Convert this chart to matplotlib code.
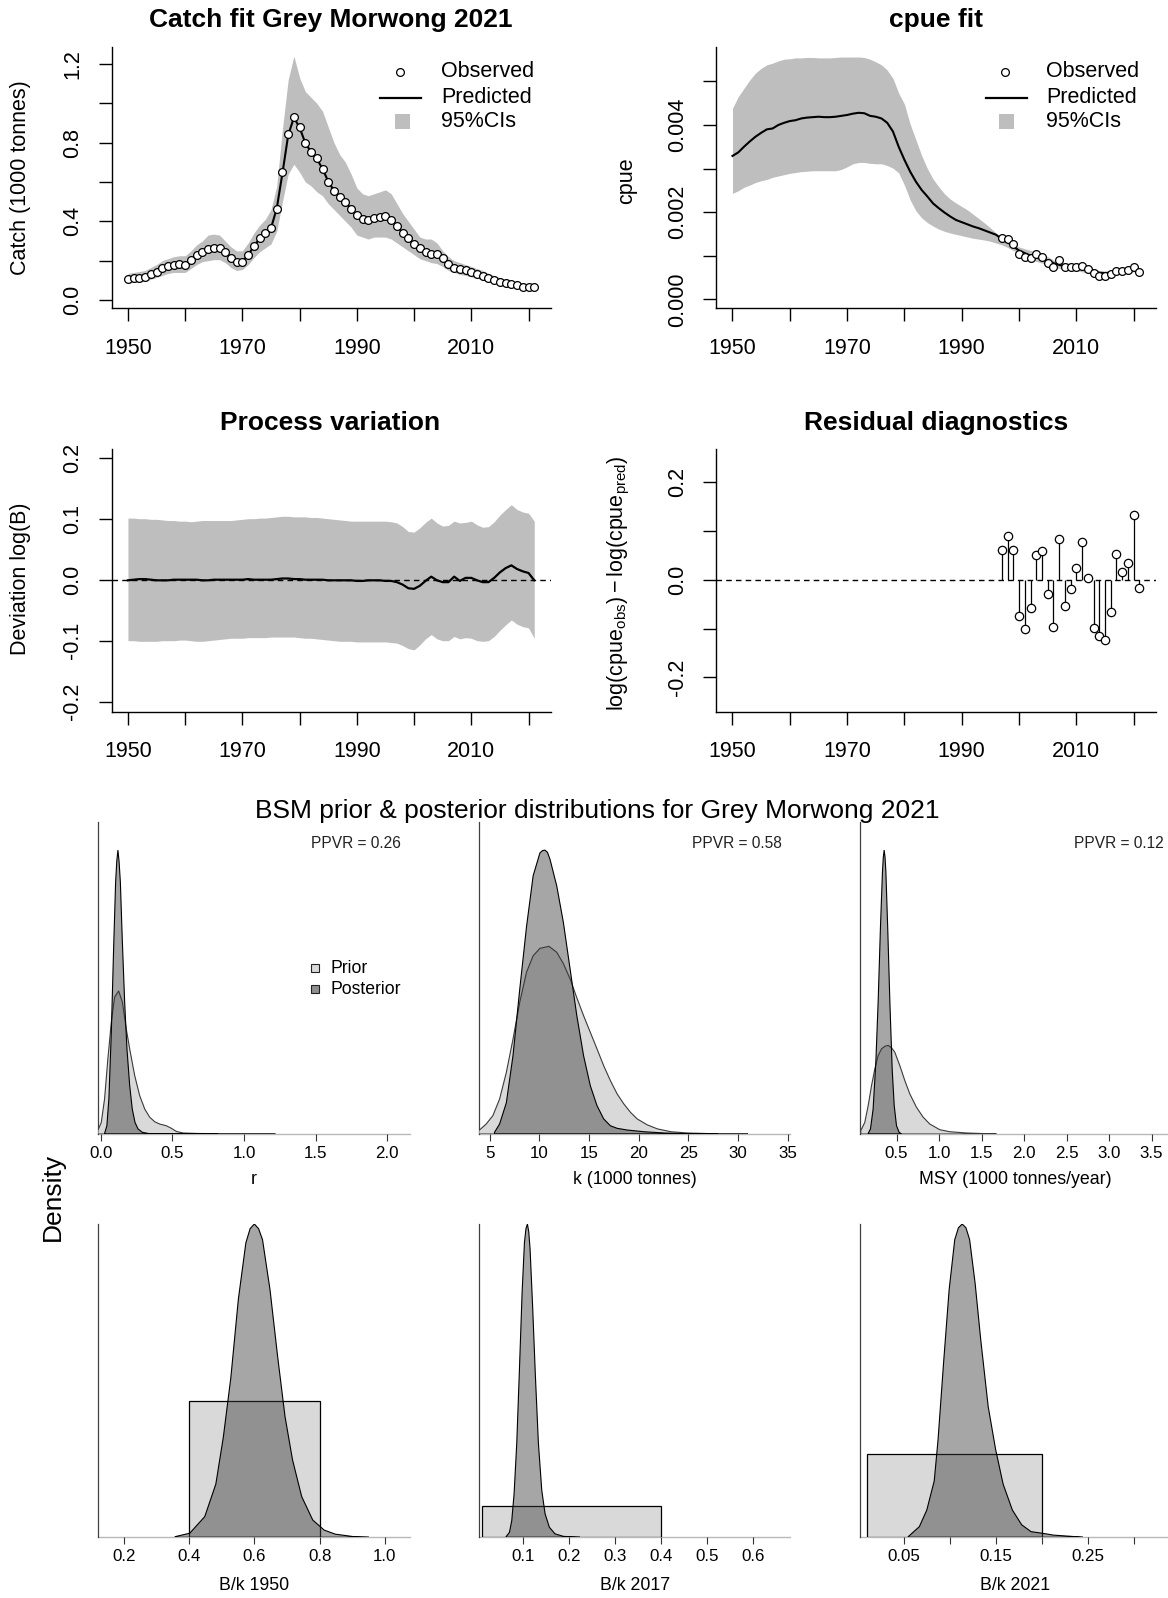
import matplotlib
matplotlib.use("Agg")
import matplotlib.pyplot as plt

plt.rcParams['font.family'] = ['Liberation Sans', 'DejaVu Sans']
plt.rcParams['mathtext.fontset'] = 'custom'
plt.rcParams['mathtext.rm'] = 'Liberation Sans'
plt.rcParams['mathtext.it'] = 'Liberation Sans:italic'

# ---------------- data ----------------
years = list(range(1950, 2022))

catch_obs = [0.105, 0.114, 0.114, 0.119, 0.132, 0.144, 0.161, 0.173, 0.178, 0.181,
             0.178, 0.203, 0.229, 0.246, 0.258, 0.263, 0.263, 0.242, 0.212, 0.192,
             0.195, 0.229, 0.275, 0.314, 0.339, 0.364, 0.463, 0.649, 0.842, 0.932,
             0.878, 0.797, 0.751, 0.720, 0.666, 0.602, 0.554, 0.525, 0.500, 0.461,
             0.432, 0.412, 0.407, 0.415, 0.424, 0.427, 0.407, 0.378, 0.339, 0.314,
             0.283, 0.263, 0.242, 0.234, 0.234, 0.212, 0.183, 0.164, 0.158, 0.153,
             0.141, 0.131, 0.122, 0.110, 0.102, 0.093, 0.088, 0.081, 0.075, 0.068,
             0.068, 0.068]
catch_pred = [0.108, 0.112, 0.115, 0.120, 0.131, 0.144, 0.160, 0.172, 0.178, 0.180,
              0.182, 0.202, 0.228, 0.246, 0.257, 0.262, 0.261, 0.243, 0.214, 0.194,
              0.197, 0.228, 0.273, 0.312, 0.338, 0.366, 0.465, 0.645, 0.838, 0.928,
              0.876, 0.798, 0.752, 0.718, 0.667, 0.603, 0.556, 0.525, 0.499, 0.462,
              0.433, 0.413, 0.408, 0.415, 0.423, 0.426, 0.408, 0.379, 0.340, 0.315,
              0.284, 0.263, 0.243, 0.235, 0.233, 0.212, 0.184, 0.165, 0.158, 0.152,
              0.141, 0.131, 0.122, 0.111, 0.102, 0.094, 0.088, 0.081, 0.075, 0.069,
              0.068, 0.068]
catch_upper = [0.135, 0.140, 0.145, 0.150, 0.165, 0.180, 0.200, 0.210, 0.220, 0.225,
               0.225, 0.250, 0.280, 0.300, 0.330, 0.335, 0.330, 0.300, 0.270, 0.250,
               0.250, 0.290, 0.340, 0.380, 0.410, 0.460, 0.580, 0.870, 1.120, 1.240,
               1.130, 1.060, 1.030, 1.000, 0.960, 0.880, 0.800, 0.740, 0.700, 0.640,
               0.570, 0.540, 0.530, 0.540, 0.550, 0.560, 0.540, 0.490, 0.440, 0.400,
               0.360, 0.320, 0.310, 0.310, 0.290, 0.250, 0.220, 0.200, 0.190, 0.180,
               0.170, 0.160, 0.150, 0.136, 0.124, 0.114, 0.105, 0.097, 0.090, 0.083,
               0.080, 0.076]
catch_lower = [0.085, 0.090, 0.090, 0.095, 0.105, 0.115, 0.125, 0.135, 0.140, 0.140,
               0.140, 0.160, 0.180, 0.195, 0.200, 0.205, 0.205, 0.190, 0.165, 0.150,
               0.155, 0.180, 0.215, 0.245, 0.265, 0.285, 0.350, 0.500, 0.640, 0.690,
               0.650, 0.600, 0.580, 0.550, 0.530, 0.490, 0.460, 0.430, 0.400, 0.370,
               0.330, 0.320, 0.310, 0.320, 0.320, 0.320, 0.310, 0.290, 0.270, 0.250,
               0.230, 0.210, 0.200, 0.190, 0.185, 0.170, 0.150, 0.140, 0.130, 0.125,
               0.117, 0.110, 0.100, 0.093, 0.087, 0.080, 0.075, 0.070, 0.065, 0.060,
               0.058, 0.057]

cpue_pred = [0.00329, 0.00337, 0.00350, 0.00362, 0.00373, 0.00382, 0.00390, 0.00392, 0.00400, 0.00405,
             0.00409, 0.00411, 0.00415, 0.00417, 0.00418, 0.00419, 0.00418, 0.00418, 0.00419, 0.00421,
             0.00423, 0.00426, 0.00428, 0.00427, 0.00421, 0.00419, 0.00415, 0.00405, 0.00385, 0.00350,
             0.00320, 0.00293, 0.00270, 0.00251, 0.00236, 0.00220, 0.00209, 0.00199, 0.00190, 0.00182,
             0.00177, 0.00172, 0.00167, 0.00163, 0.00158, 0.00153, 0.00148, 0.00138, 0.00131, 0.00121,
             0.00112, 0.00106, 0.00100, 0.00096, 0.00092, 0.00088, 0.00083, 0.00079, 0.00076, 0.00075,
             0.00074, 0.00071, 0.00067, 0.00063, 0.00061, 0.00060, 0.00061, 0.00063, 0.00065, 0.00067,
             0.00069, 0.00067]
cpue_upper = [0.00438, 0.00465, 0.00484, 0.00503, 0.00519, 0.00530, 0.00538, 0.00542, 0.00547, 0.00551,
              0.00552, 0.00554, 0.00554, 0.00555, 0.00555, 0.00554, 0.00554, 0.00554, 0.00555, 0.00556,
              0.00556, 0.00556, 0.00556, 0.00555, 0.00551, 0.00545, 0.00538, 0.00526, 0.00507, 0.00473,
              0.00448, 0.00402, 0.00366, 0.00330, 0.00300, 0.00276, 0.00258, 0.00242, 0.00230, 0.00221,
              0.00213, 0.00205, 0.00195, 0.00185, 0.00175, 0.00164, 0.00152, 0.00143, 0.00134, 0.00126,
              0.00120, 0.00116, 0.00112, 0.00108, 0.00104, 0.00098, 0.00090, 0.00086, 0.00083, 0.00083,
              0.00081, 0.00077, 0.00073, 0.00069, 0.00066, 0.00065, 0.00066, 0.00069, 0.00071, 0.00073,
              0.00075, 0.00073]
cpue_lower = [0.00243, 0.00249, 0.00257, 0.00262, 0.00268, 0.00272, 0.00275, 0.00280, 0.00283, 0.00286,
              0.00289, 0.00291, 0.00293, 0.00294, 0.00295, 0.00295, 0.00295, 0.00295, 0.00295, 0.00298,
              0.00304, 0.00311, 0.00314, 0.00314, 0.00312, 0.00311, 0.00311, 0.00307, 0.00301, 0.00290,
              0.00262, 0.00228, 0.00203, 0.00187, 0.00176, 0.00168, 0.00161, 0.00156, 0.00152, 0.00149,
              0.00146, 0.00143, 0.00140, 0.00138, 0.00136, 0.00133, 0.00129, 0.00125, 0.00119, 0.00112,
              0.00106, 0.00098, 0.00092, 0.00087, 0.00083, 0.00079, 0.00075, 0.00071, 0.00069, 0.00067,
              0.00066, 0.00063, 0.00060, 0.00057, 0.00054, 0.00054, 0.00055, 0.00057, 0.00059, 0.00061,
              0.00063, 0.00061]
cpue_obs_years = list(range(1997, 2022))
cpue_obs = [0.00141, 0.00138, 0.00126, 0.00103, 0.00096, 0.00094, 0.00104, 0.00096, 0.00084, 0.00075,
            0.00090, 0.00075, 0.00073, 0.00073, 0.00076, 0.00069, 0.00060, 0.00054, 0.00054, 0.00058,
            0.00065, 0.00065, 0.00067, 0.00075, 0.00063]

proc_dev = [-0.001, 0.000, 0.001, 0.001, 0.000, -0.001, -0.001, -0.001, 0.000, 0.000,
            0.000, 0.000, 0.000, -0.001, -0.001, 0.000, 0.000, 0.000, 0.000, 0.000,
            0.000, 0.001, 0.000, 0.000, 0.000, 0.000, 0.001, 0.002, 0.002, 0.001,
            0.001, 0.000, 0.000, 0.000, 0.000, -0.001, -0.001, -0.001, -0.001, -0.001,
            -0.002, -0.002, -0.001, -0.001, -0.001, -0.002, -0.002, -0.004, -0.008, -0.014,
            -0.015, -0.010, -0.002, 0.005, -0.001, -0.004, -0.004, 0.005, -0.002, 0.003,
            0.003, -0.001, -0.004, -0.004, 0.003, 0.012, 0.019, 0.0235, 0.0175, 0.0137,
            0.011, -0.001]
proc_upper = [0.101, 0.101, 0.100, 0.100, 0.099, 0.099, 0.098, 0.097, 0.097, 0.096,
              0.096, 0.095, 0.096, 0.097, 0.097, 0.097, 0.097, 0.097, 0.097, 0.098,
              0.099, 0.100, 0.100, 0.101, 0.101, 0.102, 0.103, 0.104, 0.104, 0.103,
              0.103, 0.103, 0.102, 0.102, 0.101, 0.100, 0.099, 0.098, 0.097, 0.096,
              0.096, 0.096, 0.096, 0.096, 0.096, 0.096, 0.095, 0.093, 0.087, 0.079,
              0.078, 0.085, 0.094, 0.101, 0.093, 0.088, 0.089, 0.096, 0.093, 0.094,
              0.096, 0.090, 0.086, 0.087, 0.095, 0.106, 0.115, 0.123, 0.115, 0.111,
              0.109, 0.096]
proc_lower = [-0.100, -0.100, -0.101, -0.101, -0.101, -0.101, -0.100, -0.100, -0.100, -0.099,
              -0.099, -0.100, -0.101, -0.101, -0.100, -0.099, -0.098, -0.097, -0.096, -0.096,
              -0.096, -0.095, -0.095, -0.095, -0.095, -0.094, -0.094, -0.094, -0.094, -0.094,
              -0.095, -0.096, -0.096, -0.097, -0.098, -0.099, -0.100, -0.101, -0.101, -0.101,
              -0.102, -0.102, -0.102, -0.102, -0.102, -0.102, -0.103, -0.104, -0.108, -0.113,
              -0.115, -0.107, -0.097, -0.090, -0.097, -0.100, -0.100, -0.093, -0.097, -0.095,
              -0.096, -0.100, -0.101, -0.100, -0.093, -0.083, -0.074, -0.066, -0.073, -0.077,
              -0.079, -0.096]

resid_years = list(range(1997, 2022))
residuals = [0.061, 0.089, 0.061, -0.074, -0.100, -0.058, 0.051, 0.059, -0.029, -0.097,
             0.084, -0.053, -0.019, 0.025, 0.077, 0.003, -0.099, -0.116, -0.123, -0.066,
             0.053, 0.015, 0.035, 0.133, -0.016]

# relative densities (y axis is unlabelled)
r_post_x = [0.028, 0.044, 0.058, 0.075, 0.091, 0.105, 0.113, 0.121, 0.129, 0.138, 0.152, 0.168,
            0.184, 0.203, 0.221, 0.240, 0.261, 0.291, 0.331, 0.389, 0.600, 0.820]
r_post_y = [0.002, 0.029, 0.124, 0.359, 0.653, 0.888, 0.960, 1.000, 0.960, 0.888, 0.676, 0.465,
            0.300, 0.171, 0.088, 0.041, 0.018, 0.006, 0.002, 0.000, 0.000, 0.000]
r_prior_x = [-0.019, 0.005, 0.028, 0.051, 0.075, 0.098, 0.126, 0.152, 0.179, 0.203, 0.238, 0.273,
             0.308, 0.343, 0.378, 0.413, 0.459, 0.494, 0.529, 0.576, 0.669, 0.809, 1.220]
r_prior_y = [0.012, 0.041, 0.124, 0.265, 0.394, 0.482, 0.504, 0.465, 0.371, 0.300, 0.206, 0.135,
             0.088, 0.059, 0.043, 0.035, 0.029, 0.020, 0.009, 0.0035, 0.002, 0.001, 0.000]

k_post_x = [5.50, 6.01, 6.69, 7.36, 8.04, 8.72, 9.39, 10.07, 10.32, 10.57, 10.83, 11.08, 11.76,
            12.43, 13.11, 13.78, 14.46, 15.14, 15.81, 16.49, 17.16, 17.84, 18.85, 20.54, 22.57,
            24.93, 27.97]
k_post_y = [0.006, 0.035, 0.110, 0.276, 0.510, 0.730, 0.910, 0.990, 0.998, 1.000, 0.992, 0.968,
            0.874, 0.745, 0.580, 0.417, 0.276, 0.170, 0.100, 0.053, 0.029, 0.020, 0.014, 0.008,
            0.0035, 0.001, 0.000]
k_prior_x = [3.92, 4.66, 5.34, 6.01, 6.69, 7.36, 8.04, 8.72, 9.39, 10.07, 10.98, 11.76, 12.43, 13.11,
             13.78, 14.46, 15.14, 15.81, 16.49, 17.16, 17.84, 18.51, 19.19, 19.86, 20.88, 21.89,
             23.24, 24.93, 27.64, 31.00]
k_prior_y = [0.012, 0.035, 0.065, 0.123, 0.217, 0.334, 0.464, 0.570, 0.628, 0.654, 0.661, 0.640,
             0.600, 0.546, 0.480, 0.417, 0.358, 0.300, 0.240, 0.188, 0.141, 0.106, 0.076, 0.053,
             0.032, 0.018, 0.008, 0.0035, 0.001, 0.000]

msy_post_x = [0.167, 0.194, 0.225, 0.257, 0.284, 0.312, 0.335, 0.345, 0.355, 0.365, 0.375, 0.398,
              0.422, 0.449, 0.473, 0.500, 0.531, 0.559]
msy_post_y = [0.002, 0.018, 0.088, 0.253, 0.465, 0.735, 0.924, 0.975, 1.000, 0.975, 0.924, 0.712,
              0.465, 0.229, 0.100, 0.029, 0.006, 0.000]
msy_prior_x = [0.080, 0.127, 0.167, 0.206, 0.245, 0.284, 0.324, 0.363, 0.402, 0.441, 0.480, 0.539,
               0.598, 0.657, 0.735, 0.814, 0.892, 1.010, 1.127, 1.324, 1.676]
msy_prior_y = [0.012, 0.041, 0.100, 0.170, 0.229, 0.276, 0.300, 0.309, 0.312, 0.304, 0.288, 0.241,
               0.188, 0.141, 0.094, 0.059, 0.035, 0.015, 0.008, 0.0035, 0.000]

bk1950_post_x = [0.357, 0.402, 0.448, 0.482, 0.505, 0.528, 0.551, 0.574, 0.587, 0.600, 0.613, 0.625,
                 0.648, 0.671, 0.694, 0.717, 0.745, 0.779, 0.814, 0.848, 0.905, 0.951]
bk1950_post_y = [0.002, 0.013, 0.066, 0.170, 0.320, 0.510, 0.760, 0.940, 0.985, 1.000, 0.985, 0.950,
                 0.790, 0.580, 0.385, 0.247, 0.130, 0.055, 0.023, 0.010, 0.002, 0.000]
bk1950_prior = [0.40, 0.80, 0.436]   # low, high, relative height

bk2017_post_x = [0.0623, 0.0696, 0.0746, 0.0797, 0.0855, 0.0913, 0.0971, 0.1022, 0.1055, 0.1087,
                 0.1116, 0.1145, 0.1203, 0.1261, 0.1326, 0.1399, 0.1471, 0.1565, 0.1688, 0.1870,
                 0.2232]
bk2017_post_y = [0.002, 0.016, 0.053, 0.139, 0.300, 0.535, 0.780, 0.940, 0.985, 1.000,
                 0.975, 0.920, 0.727, 0.513, 0.300, 0.150, 0.075, 0.032, 0.011, 0.003,
                 0.000]
bk2017_prior = [0.01, 0.40, 0.0995]

bk2021_post_x = [0.0549, 0.0670, 0.0751, 0.0832, 0.0873, 0.0933, 0.0994, 0.1055, 0.1095, 0.1136,
                 0.1177, 0.1217, 0.1277, 0.1338, 0.1419, 0.1500, 0.1581, 0.1682, 0.1783, 0.1885,
                 0.2006, 0.2128, 0.2370, 0.2450]
bk2021_post_y = [0.002, 0.034, 0.087, 0.180, 0.310, 0.555, 0.790, 0.950, 0.988, 1.000,
                 0.988, 0.950, 0.810, 0.630, 0.417, 0.280, 0.170, 0.087, 0.040, 0.018,
                 0.013, 0.007, 0.002, 0.000]
bk2021_prior = [0.01, 0.20, 0.265]

ppvr = ["PPVR = 0.26", "PPVR = 0.58", "PPVR = 0.12"]

# ---------------- figure ----------------
W, H = 1168, 1598
PT = 72 / 100.0
fig = plt.figure(figsize=(W / 100, H / 100), dpi=100)


def px_axes(l, t, r, b):
    return fig.add_axes([l / W, 1 - b / H, (r - l) / W, (b - t) / H])


CI_COL = '#bebebe'
FS = 15.5
year_ticks = list(range(1950, 2021, 10))
year_labels = ['1950', '', '1970', '', '1990', '', '2010', '']
XLIM = (1947.16, 2023.84)


def style_top(ax, ylim, yticks, ylabels):
    ax.set_xlim(*XLIM)
    ax.set_ylim(*ylim)
    for s in ['top', 'right']:
        ax.spines[s].set_visible(False)
    for s in ['left', 'bottom']:
        ax.spines[s].set_linewidth(1.0)
        ax.spines[s].set_color('black')
    ax.set_xticks(year_ticks)
    ax.set_xticklabels(year_labels)
    ax.set_yticks(yticks)
    ax.set_yticklabels(ylabels)
    ax.tick_params(direction='out', length=13 * PT, width=1.0, labelsize=FS, colors='black')
    ax.tick_params(axis='x', pad=27 * PT)
    ax.tick_params(axis='y', pad=26 * PT)
    plt.setp(ax.get_xticklabels(), va='center')
    plt.setp(ax.get_yticklabels(), rotation=90, ha='center', va='center')


obs_kw = dict(ls='none', marker='o', mfc='white', mec='black', ms=5.6, mew=0.9)

# Catch fit
ax1 = px_axes(111.7, 47, 550.5, 308)
ax1.fill_between(years, catch_lower, catch_upper, color=CI_COL, lw=0)
ax1.plot(years, catch_pred, color='black', lw=1.5)
ax1.plot(years, catch_obs, **obs_kw)
style_top(ax1, (-0.0407, 1.2864), [0, 0.2, 0.4, 0.6, 0.8, 1.0, 1.2],
          ['0.0', '', '0.4', '', '0.8', '', '1.2'])

# cpue fit
ax2 = px_axes(716.2, 47, 1155.7, 308)
ax2.fill_between(years, cpue_lower, cpue_upper, color=CI_COL, lw=0)
ax2.plot(years, cpue_pred, color='black', lw=1.5)
ax2.plot(cpue_obs_years, cpue_obs, **obs_kw)
style_top(ax2, (-0.0002, 0.00579), [0, 0.001, 0.002, 0.003, 0.004, 0.005],
          ['0.000', '', '0.002', '', '0.004', ''])

# Process variation
ax3 = px_axes(111.7, 449.3, 550.5, 711.7)
ax3.fill_between(years, proc_lower, proc_upper, color=CI_COL, lw=0)
ax3.axhline(0, color='black', lw=1.0, ls=(0, (4, 3)))
ax3.plot(years, proc_dev, color='black', lw=1.6)
style_top(ax3, (-0.2164, 0.2138), [-0.2, -0.1, 0, 0.1, 0.2],
          ['-0.2', '-0.1', '0.0', '0.1', '0.2'])

# Residual diagnostics
ax4 = px_axes(716.2, 449.3, 1155.7, 711.7)
ax4.axhline(0, color='black', lw=1.0, ls=(0, (4, 3)))
ax4.vlines(resid_years, 0, residuals, color='black', lw=0.9)
ax4.plot(resid_years, residuals, ls='none', marker='o', mfc='white', mec='black', ms=6.0, mew=0.9)
style_top(ax4, (-0.2706, 0.2677), [-0.2, -0.1, 0, 0.1, 0.2],
          ['-0.2', '', '0.0', '', '0.2'])

# ---------------- density panels ----------------
PRIOR_FC = '#d9d9d9'
POST_FC = (0.22, 0.22, 0.22, 0.447)


def style_dens(ax, xlim, ytop, xticks, xlabels, pad_px):
    ax.set_xlim(*xlim)
    ax.set_ylim(0, ytop)
    ax.set_yticks([])
    for s in ['top', 'right']:
        ax.spines[s].set_visible(False)
    ax.spines['left'].set_color('#404040')
    ax.spines['left'].set_linewidth(0.9)
    ax.spines['bottom'].set_color('#b8b8b8')
    ax.spines['bottom'].set_linewidth(1.0)
    ax.spines['bottom'].set_zorder(0.5)
    ax.patch.set_alpha(0)
    ax.set_xticks(xticks)
    ax.set_xticklabels(xlabels)
    ax.tick_params(axis='x', direction='out', length=7 * PT, width=0.8, color='#333333',
                   labelsize=12.2, pad=pad_px * PT)
    plt.setp(ax.get_xticklabels(), va='center')


def draw_curve(ax, xs, ys, fc, ec):
    ax.fill(xs + [xs[-1], xs[0]], ys + [0, 0], fc=fc, ec=ec, lw=0.8, zorder=3)


def draw_rect(ax, spec):
    ax.bar(spec[0], spec[2], width=spec[1] - spec[0], align='edge',
           color=PRIOR_FC, edgecolor='black', lw=0.9, zorder=2)


row1 = (821.7, 1134)
row2 = (1224, 1537.3)
cols = [(97.7, 409.7), (479.3, 790), (859.6, 1170.3)]

a = px_axes(cols[0][0], row1[0], cols[0][1], row1[1])
draw_curve(a, r_prior_x, r_prior_y, PRIOR_FC, '#3a3a3a')
draw_curve(a, r_post_x, r_post_y, POST_FC, 'black')
style_dens(a, (-0.02, 2.156), 1.1, [0, 0.5, 1.0, 1.5, 2.0],
           ['0.0', '0.5', '1.0', '1.5', '2.0'], 12)

a = px_axes(cols[1][0], row1[0], cols[1][1], row1[1])
draw_curve(a, k_prior_x, k_prior_y, PRIOR_FC, '#3a3a3a')
draw_curve(a, k_post_x, k_post_y, POST_FC, 'black')
style_dens(a, (3.97, 35.23), 1.1, [5, 10, 15, 20, 25, 30, 35],
           ['5', '10', '15', '20', '25', '30', '35'], 12)

a = px_axes(cols[2][0], row1[0], cols[2][1], row1[1])
draw_curve(a, msy_prior_x, msy_prior_y, PRIOR_FC, '#3a3a3a')
draw_curve(a, msy_post_x, msy_post_y, POST_FC, 'black')
style_dens(a, (0.066, 3.72), 1.1, [0.5, 1.0, 1.5, 2.0, 2.5, 3.0, 3.5],
           ['0.5', '1.0', '1.5', '2.0', '2.5', '3.0', '3.5'], 12)

a = px_axes(cols[0][0], row2[0], cols[0][1], row2[1])
draw_rect(a, bk1950_prior)
draw_curve(a, bk1950_post_x, bk1950_post_y, POST_FC, 'black')
style_dens(a, (0.12, 1.076), 1.0, [0.2, 0.4, 0.6, 0.8, 1.0],
           ['0.2', '0.4', '0.6', '0.8', '1.0'], 12.4)

a = px_axes(cols[1][0], row2[0], cols[1][1], row2[1])
draw_rect(a, bk2017_prior)
draw_curve(a, bk2017_post_x, bk2017_post_y, POST_FC, 'black')
style_dens(a, (0.004, 0.68), 1.0, [0.1, 0.2, 0.3, 0.4, 0.5, 0.6],
           ['0.1', '0.2', '0.3', '0.4', '0.5', '0.6'], 12.4)

a = px_axes(cols[2][0], row2[0], cols[2][1], row2[1])
draw_rect(a, bk2021_prior)
draw_curve(a, bk2021_post_x, bk2021_post_y, POST_FC, 'black')
style_dens(a, (0.002, 0.34), 1.0, [0.05, 0.10, 0.15, 0.20, 0.25, 0.30],
           ['0.05', '', '0.15', '', '0.25', ''], 12.4)

# ---------------- overlay texts / legends ----------------
ov = fig.add_axes([0, 0, 1, 1], zorder=10)
ov.set_xlim(0, W)
ov.set_ylim(H, 0)
ov.axis('off')
ov.patch.set_alpha(0)

# titles
ov.text(331, 20, 'Catch fit Grey Morwong 2021', ha='center', va='center', fontsize=19, fontweight='bold')
ov.text(936, 20, 'cpue fit', ha='center', va='center', fontsize=19, fontweight='bold')
ov.text(330, 423, 'Process variation', ha='center', va='center', fontsize=19, fontweight='bold')
ov.text(936, 423, 'Residual diagnostics', ha='center', va='center', fontsize=19, fontweight='bold')

# y labels
ov.text(20.5, 178, 'Catch (1000 tonnes)', rotation=90, ha='center', va='center', fontsize=FS)
ov.text(626.8, 181, 'cpue', rotation=90, ha='center', va='center', fontsize=FS)
ov.text(20.5, 579, 'Deviation log(B)', rotation=90, ha='center', va='center', fontsize=FS)
ov.text(619.4, 583, r'$\mathrm{log(cpue_{obs})-log(cpue_{pred})}$', rotation=90,
        ha='center', va='center', fontsize=FS)

# legends for fit panels
for mx, tx, lx0, lx1, sq0 in [(400.4, 441.3, 380, 420.8, 395), (1004.9, 1045.8, 985.5, 1026.5, 999)]:
    ov.plot([mx], [71.7], ls='none', marker='o', mfc='white', mec='black', ms=5.6, mew=0.9)
    ov.plot([lx0, lx1], [98.3, 98.3], color='black', lw=1.6)
    ov.add_patch(plt.Rectangle((sq0, 113.5), 15, 15, fc=CI_COL, ec='none'))
    ov.text(tx, 71.7, 'Observed', ha='left', va='center', fontsize=FS)
    ov.text(tx, 97.5, 'Predicted', ha='left', va='center', fontsize=FS)
    ov.text(tx, 121.5, '95%CIs', ha='left', va='center', fontsize=FS)

# bottom section texts
ov.text(597, 811, 'BSM prior & posterior distributions for Grey Morwong 2021',
        ha='center', va='center', fontsize=19)
ov.text(53, 1197, 'Density', rotation=90, ha='center', va='center', fontsize=19)
ov.text(401, 843.3, ppvr[0], ha='right', va='center', fontsize=11.2, color='#222222')
ov.text(782.3, 843.3, ppvr[1], ha='right', va='center', fontsize=11.2, color='#222222')
ov.text(1163.3, 843.3, ppvr[2], ha='right', va='center', fontsize=11.2, color='#222222')

xlabels_row1 = ['r', 'k (1000 tonnes)', 'MSY (1000 tonnes/year)']
xlabels_row2 = ['B/k 1950', 'B/k 2017', 'B/k 2021']
for (cx0, cx1), t in zip(cols, xlabels_row1):
    ov.text((cx0 + cx1) / 2, 1180, t, ha='center', va='center', fontsize=12.8)
for (cx0, cx1), t in zip(cols, xlabels_row2):
    ov.text((cx0 + cx1) / 2, 1585, t, ha='center', va='center', fontsize=12.8)

# prior/posterior legend
ov.plot([314.7], [968.3], ls='none', marker='s', mfc=PRIOR_FC, mec='#222222', ms=5.2, mew=0.8)
ov.plot([314.7], [989.3], ls='none', marker='s', mfc='#8f8f8f', mec='#222222', ms=5.2, mew=0.8)
ov.text(330.7, 968.3, 'Prior', ha='left', va='center', fontsize=12.7)
ov.text(330.7, 989.3, 'Posterior', ha='left', va='center', fontsize=12.7)

fig.savefig('out.png', dpi=100)
